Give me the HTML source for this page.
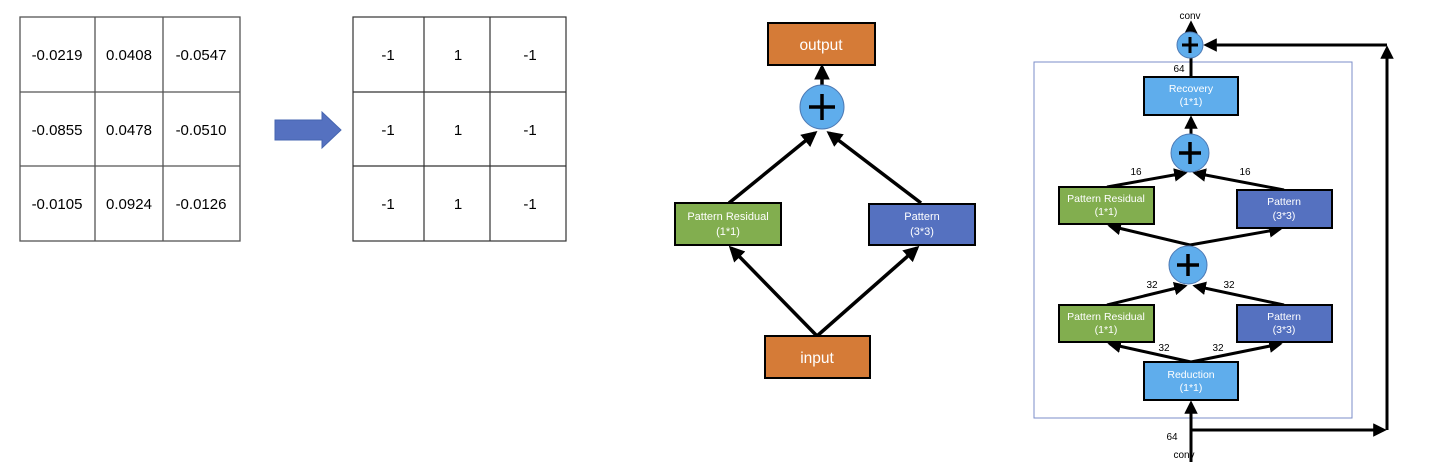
<!DOCTYPE html>
<html><head><meta charset="utf-8"><style>
body{margin:0;background:#fff;width:1437px;height:466px;overflow:hidden}
svg{display:block}
text{font-family:"Liberation Sans",sans-serif}
</style></head><body>
<svg width="1437" height="466" viewBox="0 0 1437 466" xmlns="http://www.w3.org/2000/svg">
<defs>
<marker id="a" viewBox="0 0 10 10" refX="8" refY="5" markerWidth="4.5" markerHeight="4.5" orient="auto-start-reverse"><path d="M0,0 L10,5 L0,10 z" fill="#000"/></marker>
</defs>
<!-- table 1 -->
<g stroke="#555" stroke-width="1.3" fill="none">
<rect x="20" y="17" width="220" height="224"/>
<line x1="95" y1="17" x2="95" y2="241"/><line x1="163" y1="17" x2="163" y2="241"/>
<line x1="20" y1="92" x2="240" y2="92"/><line x1="20" y1="166" x2="240" y2="166"/>
</g>
<g font-size="15" fill="#000" text-anchor="middle">
<text x="57" y="60">-0.0219</text><text x="129" y="60">0.0408</text><text x="201" y="60">-0.0547</text>
<text x="57" y="135">-0.0855</text><text x="129" y="135">0.0478</text><text x="201" y="135">-0.0510</text>
<text x="57" y="209">-0.0105</text><text x="129" y="209">0.0924</text><text x="201" y="209">-0.0126</text>
</g>
<!-- arrow -->
<path d="M275,120 L322,120 L322,112 L341,130 L322,148 L322,140 L275,140 z" fill="#5571c0" stroke="#4565b0" stroke-width="1"/>
<!-- table 2 -->
<g stroke="#333" stroke-width="1.2" fill="none">
<rect x="353" y="17" width="213" height="224"/>
<line x1="424" y1="17" x2="424" y2="241"/><line x1="490" y1="17" x2="490" y2="241"/>
<line x1="353" y1="92" x2="566" y2="92"/><line x1="353" y1="166" x2="566" y2="166"/>
</g>
<g font-size="15" fill="#000" text-anchor="middle">
<text x="388" y="60">-1</text><text x="458" y="60">1</text><text x="530" y="60">-1</text>
<text x="388" y="135">-1</text><text x="458" y="135">1</text><text x="530" y="135">-1</text>
<text x="388" y="209">-1</text><text x="458" y="209">1</text><text x="530" y="209">-1</text>
</g>
<!-- middle diagram -->
<g stroke="#000" stroke-width="3.5" fill="none">
<line x1="729" y1="203" x2="815" y2="133" marker-end="url(#a)"/>
<line x1="921" y1="203" x2="829" y2="133" marker-end="url(#a)"/>
<line x1="817" y1="336" x2="731" y2="248" marker-end="url(#a)"/>
<line x1="817" y1="336" x2="917" y2="248" marker-end="url(#a)"/>
<line x1="822" y1="85" x2="822" y2="67" marker-end="url(#a)"/>
</g>
<rect x="768" y="23" width="107" height="42" fill="#d57b37" stroke="#000" stroke-width="2"/>
<text x="821" y="50" font-size="15.5" fill="#fff" text-anchor="middle">output</text>
<rect x="765" y="336" width="105" height="42" fill="#d57b37" stroke="#000" stroke-width="2"/>
<text x="817" y="363" font-size="15.5" fill="#fff" text-anchor="middle">input</text>
<rect x="675" y="203" width="106" height="42" fill="#82ae4f" stroke="#000" stroke-width="2"/>
<text x="728" y="220" font-size="11" fill="#fff" text-anchor="middle">Pattern Residual</text>
<text x="728" y="235" font-size="11" fill="#fff" text-anchor="middle">(1*1)</text>
<rect x="869" y="204" width="106" height="41" fill="#5571c0" stroke="#000" stroke-width="2"/>
<text x="922" y="220" font-size="11" fill="#fff" text-anchor="middle">Pattern</text>
<text x="922" y="235" font-size="11" fill="#fff" text-anchor="middle">(3*3)</text>
<circle cx="822" cy="107" r="22" fill="#5fadec" stroke="#4d7ab5" stroke-width="1"/>
<path d="M809,107 H835 M822,94 V120" stroke="#000" stroke-width="3.5"/>
<!-- right diagram -->
<rect x="1034" y="62" width="318" height="356" fill="none" stroke="#7b8ec8" stroke-width="1"/>
<g stroke="#000" stroke-width="3" fill="none">
<line x1="1191" y1="462" x2="1191" y2="403" marker-end="url(#a)"/>
<polyline points="1191,430 1384,430" marker-end="url(#a)"/>
<line x1="1387" y1="430" x2="1387" y2="48" marker-end="url(#a)"/>
<line x1="1387" y1="45" x2="1206" y2="45" marker-end="url(#a)"/>
<line x1="1191" y1="77" x2="1191" y2="58"/>
<line x1="1191" y1="32" x2="1191" y2="23" marker-end="url(#a)"/>
<line x1="1191" y1="134" x2="1191" y2="118" marker-end="url(#a)"/>
<line x1="1107" y1="187" x2="1185" y2="173" marker-end="url(#a)"/>
<line x1="1284" y1="190" x2="1195" y2="173" marker-end="url(#a)"/>
<line x1="1190" y1="245" x2="1110" y2="226" marker-end="url(#a)"/>
<line x1="1190" y1="245" x2="1280" y2="229" marker-end="url(#a)"/>
<line x1="1107" y1="305" x2="1185" y2="286" marker-end="url(#a)"/>
<line x1="1284" y1="305" x2="1195" y2="286" marker-end="url(#a)"/>
<line x1="1191" y1="362" x2="1110" y2="344" marker-end="url(#a)"/>
<line x1="1191" y1="362" x2="1280" y2="344" marker-end="url(#a)"/>
</g>
<g font-size="10" fill="#000" text-anchor="middle">
<text x="1190" y="19">conv</text><text x="1184" y="458">conv</text>
<text x="1179" y="72">64</text><text x="1172" y="440">64</text>
<text x="1136" y="175">16</text><text x="1245" y="175">16</text>
<text x="1152" y="288">32</text><text x="1229" y="288">32</text>
<text x="1164" y="351">32</text><text x="1218" y="351">32</text>
</g>
<rect x="1144" y="77" width="94" height="38" fill="#5fadec" stroke="#000" stroke-width="2"/>
<text x="1191" y="92" font-size="10.5" fill="#fff" text-anchor="middle">Recovery</text>
<text x="1191" y="105" font-size="10.5" fill="#fff" text-anchor="middle">(1*1)</text>
<rect x="1059" y="187" width="95" height="37" fill="#82ae4f" stroke="#000" stroke-width="2"/>
<text x="1106" y="202" font-size="10.5" fill="#fff" text-anchor="middle">Pattern Residual</text>
<text x="1106" y="215" font-size="10.5" fill="#fff" text-anchor="middle">(1*1)</text>
<rect x="1237" y="190" width="95" height="38" fill="#5571c0" stroke="#000" stroke-width="2"/>
<text x="1284" y="205" font-size="10.5" fill="#fff" text-anchor="middle">Pattern</text>
<text x="1284" y="219" font-size="10.5" fill="#fff" text-anchor="middle">(3*3)</text>
<rect x="1059" y="305" width="95" height="37" fill="#82ae4f" stroke="#000" stroke-width="2"/>
<text x="1106" y="320" font-size="10.5" fill="#fff" text-anchor="middle">Pattern Residual</text>
<text x="1106" y="333" font-size="10.5" fill="#fff" text-anchor="middle">(1*1)</text>
<rect x="1237" y="305" width="95" height="37" fill="#5571c0" stroke="#000" stroke-width="2"/>
<text x="1284" y="320" font-size="10.5" fill="#fff" text-anchor="middle">Pattern</text>
<text x="1284" y="333" font-size="10.5" fill="#fff" text-anchor="middle">(3*3)</text>
<rect x="1144" y="362" width="94" height="38" fill="#5fadec" stroke="#000" stroke-width="2"/>
<text x="1191" y="378" font-size="10.5" fill="#fff" text-anchor="middle">Reduction</text>
<text x="1191" y="391" font-size="10.5" fill="#fff" text-anchor="middle">(1*1)</text>
<circle cx="1190" cy="45" r="13" fill="#5fadec" stroke="#4d7ab5" stroke-width="1"/>
<path d="M1182,45 H1198 M1190,37 V53" stroke="#000" stroke-width="3"/>
<circle cx="1190" cy="153" r="19" fill="#5fadec" stroke="#4d7ab5" stroke-width="1"/>
<path d="M1179,153 H1201 M1190,142 V164" stroke="#000" stroke-width="3.5"/>
<circle cx="1188" cy="265" r="19" fill="#5fadec" stroke="#4d7ab5" stroke-width="1"/>
<path d="M1177,265 H1199 M1188,254 V276" stroke="#000" stroke-width="3.5"/>
</svg>
</body></html>
